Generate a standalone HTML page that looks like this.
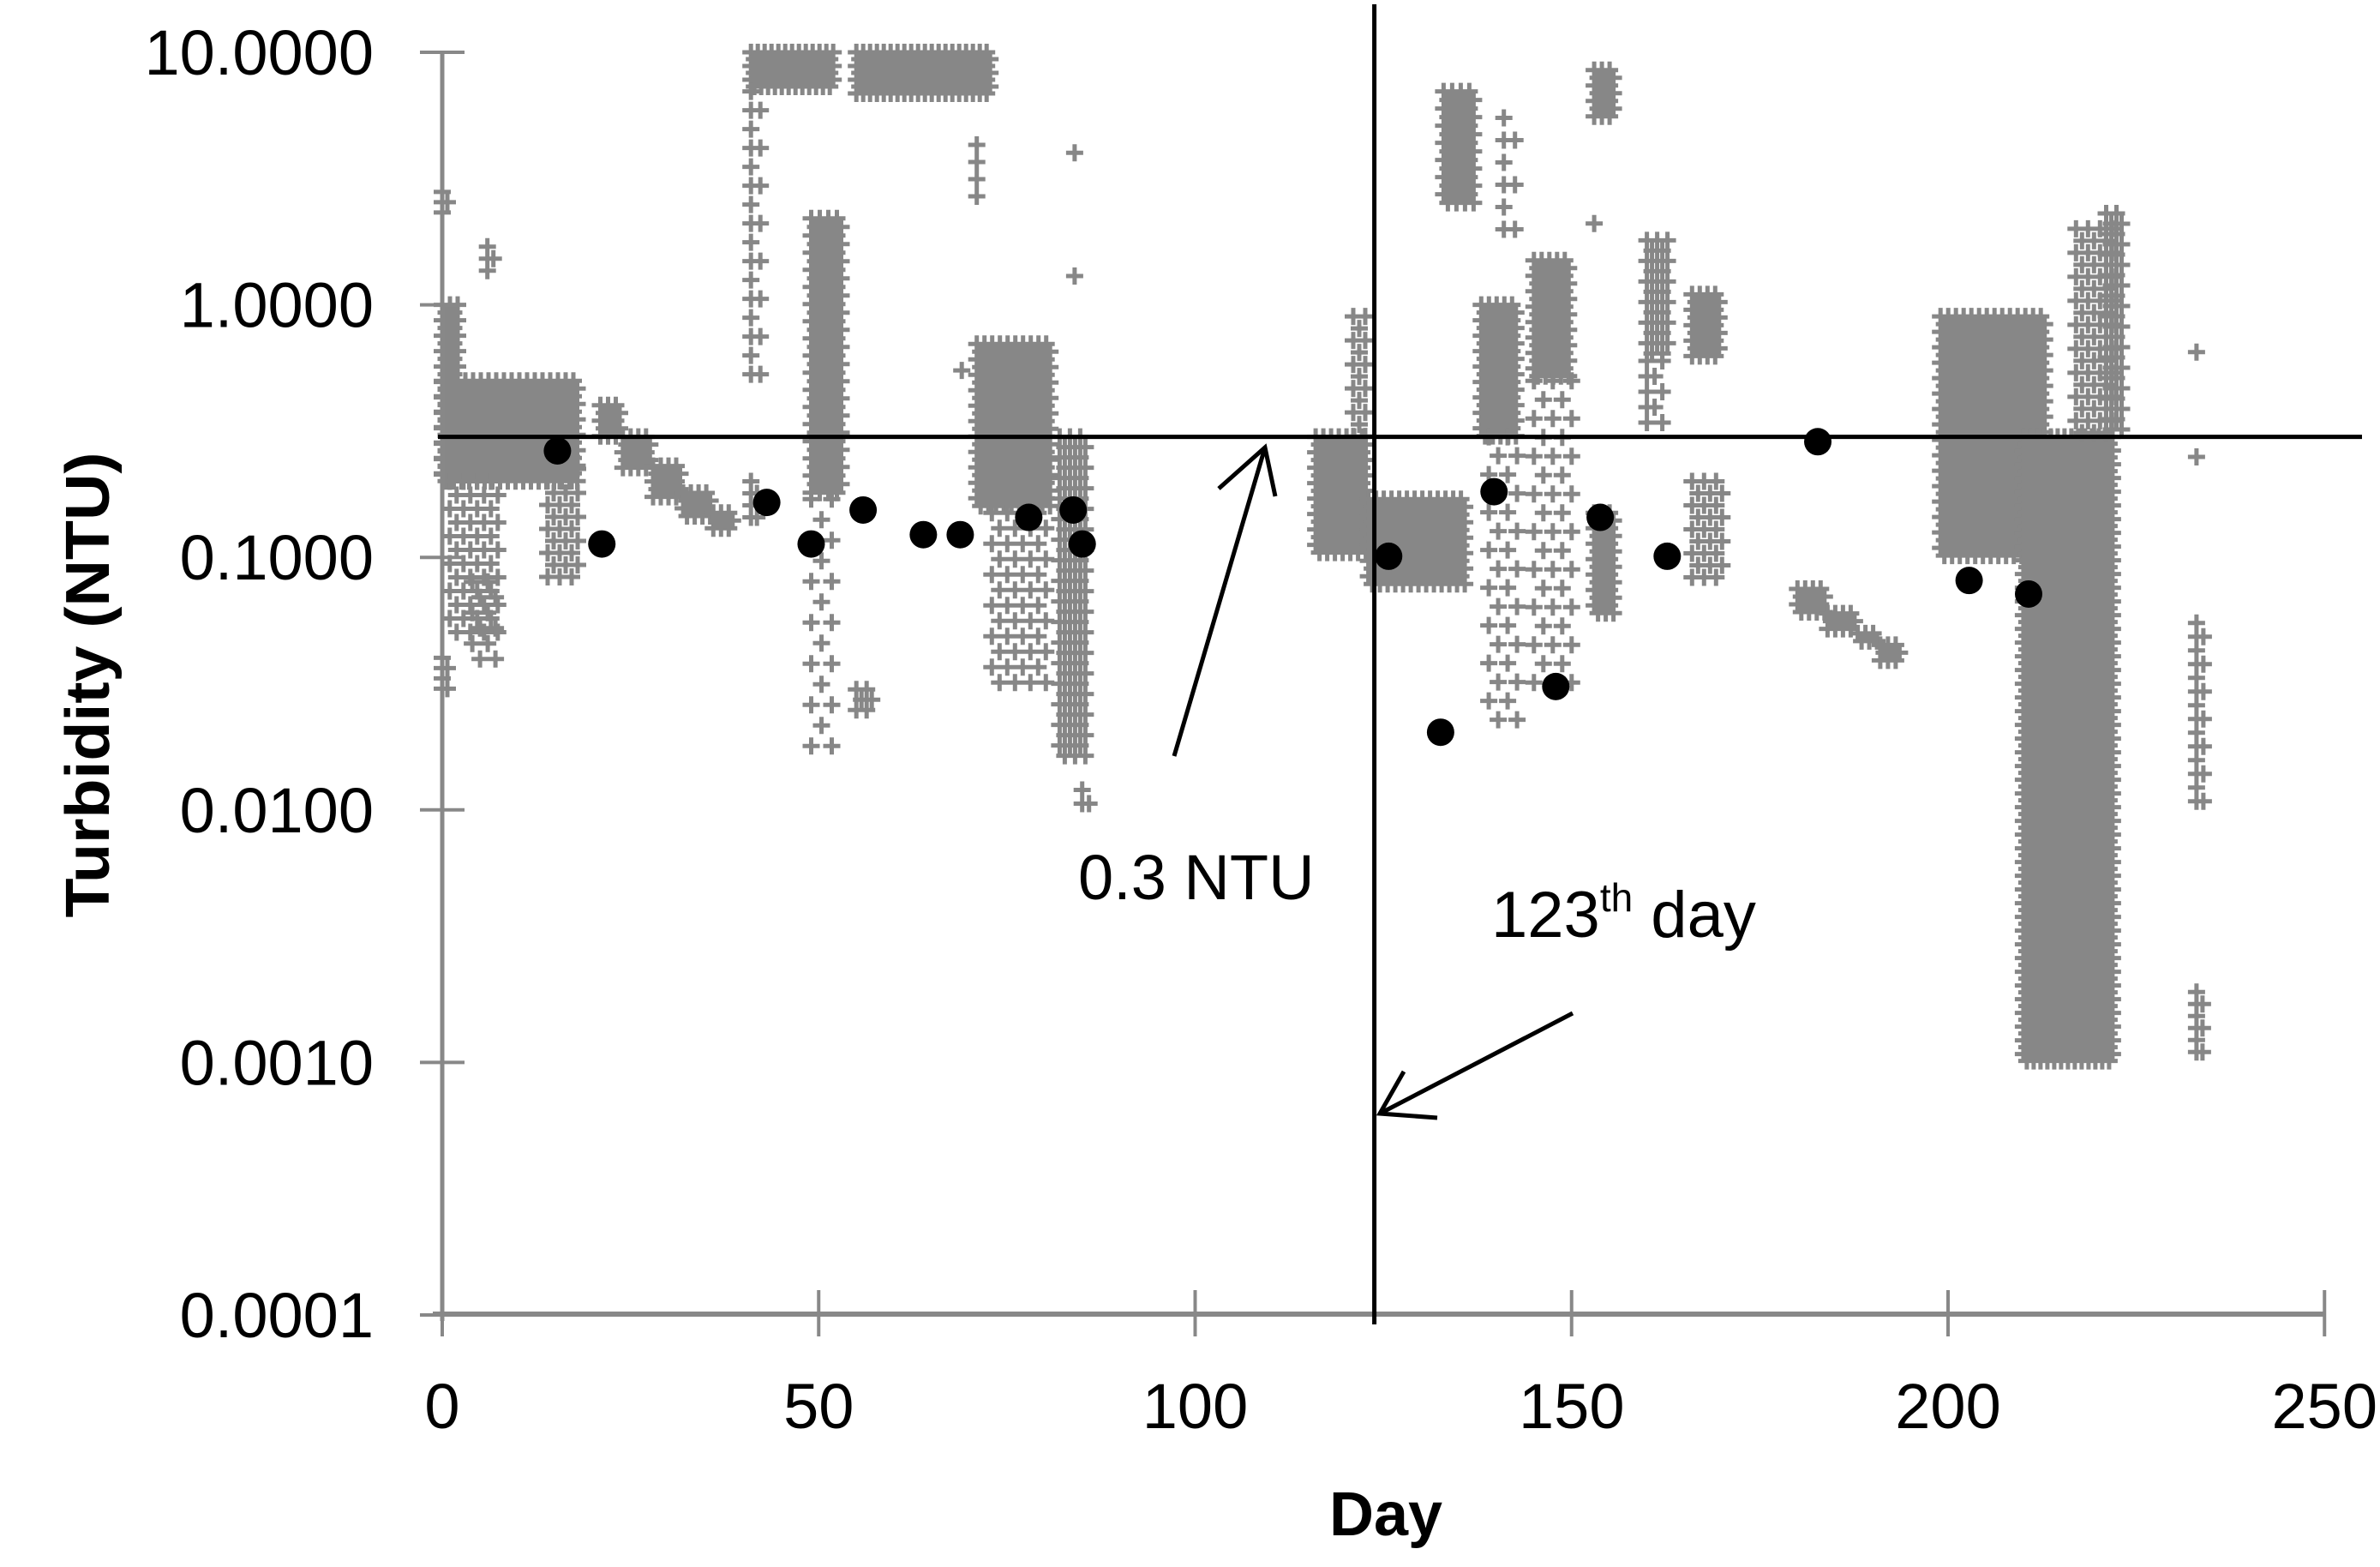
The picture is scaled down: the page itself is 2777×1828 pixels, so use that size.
<!DOCTYPE html>
<html><head><meta charset="utf-8"><style>
html,body{margin:0;padding:0;background:#fff}
svg{display:block}
text{font-family:"Liberation Sans",Arial,sans-serif;fill:#000}
</style></head><body>
<svg id="chart" width="2777" height="1828" viewBox="0 0 2777 1828" xmlns="http://www.w3.org/2000/svg">
<g id="grayLayer"></g>
<g id="axes"></g>
<g id="refLines"></g>
<g id="dotLayer"></g>
<text transform="translate(127,799) rotate(-90)" text-anchor="middle" font-weight="bold" font-size="72" textLength="543" lengthAdjust="spacingAndGlyphs">Turbidity (NTU)</text>
<text x="1617" y="1791" text-anchor="middle" font-weight="bold" font-size="72">Day</text>
<text x="1258" y="1049" font-size="74">0.3 NTU</text>
<text x="1740" y="1093" font-size="76">123<tspan font-size="46" dy="-30">th</tspan><tspan dy="30"> day</tspan></text>
<g stroke="#000" stroke-width="5" fill="none">
<line x1="1370" y1="882" x2="1476" y2="522"/><polyline points="1422,570 1476,522 1488,579"/>
</g>
<g stroke="#000" stroke-width="5" fill="none">
<line x1="1835" y1="1182" x2="1610" y2="1299"/><polyline points="1638,1250 1610,1299 1677,1304"/>
</g>
</svg>
<script>
// continuous sensor data as clusters: day range, turbidity range, marker spacing
const clD0 = [0,0,0,1,4,0,6,14,21,24,28,32,36,41,41,41,49,49,55,55,69,71,71,73,82,84,84,85,116,121,123,133,138,139,141,145,145,153,153,153,160,160,166,166,180,184,188,191,199,210,217,221,233,233,233,233];
const clD1 = [2,1,18,8,8,1,7,18,24,28,32,36,39,52,43,42,53,52,73,57,70,72,81,81,86,85,85,86,123,123,136,137,143,143,143,150,150,156,154,156,163,162,170,170,184,188,191,194,213,222,222,223,234,234,234,234];
const clLo = [0.2,2.2,0.2,0.05,0.035,0.028,1.3,0.08,0.3,0.22,0.17,0.14,0.13,7,0.5,0.13,0.17,0.016,6.6,0.023,0.5,2.5,0.15,0.03,0.015,1.25,4,0.01,0.1,0.3,0.075,2.5,0.3,0.02,1.8,0.5,0.03,5.5,1.9,0.06,0.6,0.3,0.6,0.08,0.06,0.05,0.045,0.038,0.1,0.001,0.3,0.3,0.6,0.25,0.01,0.001];
const clHi = [1.0,2.8,0.5,0.2,0.08,0.04,1.7,0.25,0.4,0.3,0.23,0.18,0.15,10,7,0.2,2.2,0.17,10,0.03,0.55,4.3,0.7,0.15,0.3,1.3,4,0.012,0.3,0.9,0.17,7,1.0,0.3,5.5,1.5,0.5,8.5,2.1,0.15,1.8,0.6,1.1,0.2,0.075,0.06,0.05,0.045,0.9,0.3,2,2.3,0.65,0.25,0.055,0.0019];
const clStep = [9,12,9,16,18,12,14,14,9,9,9,9,9,8,22,14,10,24,8,12,20,20,9,18,12,16,20,16,9,14,9,10,9,22,26,9,22,9,14,9,12,18,9,14,9,9,9,9,9,8,14,12,20,20,16,14];
// grab samples (black dots)
const dotDays = [15.3,21.2,43.1,49.0,55.9,63.9,68.8,77.9,83.8,85.0,125.7,132.6,139.7,147.9,153.8,162.7,182.7,202.8,210.7];
const dotVals = [0.264,0.113,0.165,0.113,0.154,0.123,0.123,0.144,0.154,0.113,0.101,0.0203,0.182,0.0308,0.144,0.101,0.287,0.081,0.0716];
const xTicks = [0,50,100,150,200,250];
const yTicks = [10,1,0.1,0.01,0.001,0.0001];
const yTickLabels = ["10.0000","1.0000","0.1000","0.0100","0.0010","0.0001"];
const threshold = 0.3;
const markDay = 123.8;

const NS = "http://www.w3.org/2000/svg";
const X = d => 516 + d * 8.785;
const Y = v => 61 + (1 - Math.log10(v)) * 294.6;
function mk(tag, attrs, parent){const e=document.createElementNS(NS,tag);for(const k in attrs)e.setAttribute(k,attrs[k]);parent.appendChild(e);return e;}

// axes
const ax = document.getElementById('axes');
const yAxis = mk('line',{x1:516,y1:61,x2:516,y2:1541,stroke:'#888',"stroke-width":5},ax);


const xAxis = mk('line',{x1:505,y1:1533,x2:2712,y2:1533,stroke:'#888',"stroke-width":6},ax);


yTicks.forEach((v,i)=>{
  const t = mk('line',{x1:490,y1:Y(v),x2:542,y2:Y(v),stroke:'#888',"stroke-width":4},ax);
  
  
  const l = mk('text',{x:436,y:Y(v)+26,"text-anchor":"end","font-size":74},ax);
  l.textContent = yTickLabels[i];
  
  
});
xTicks.forEach(d=>{
  const t = mk('line',{x1:X(d),y1:1505,x2:X(d),y2:1559,stroke:'#888',"stroke-width":4},ax);
  
  
  const l = mk('text',{x:X(d),y:1666,"text-anchor":"middle","font-size":74},ax);
  l.textContent = String(d);
  
  
});

// gray plus markers
const gl = document.getElementById('grayLayer');
for(let i=0;i<clD0.length;i++){
  const x0=X(clD0[i]), x1=X(clD1[i]), y0=Y(clHi[i]), y1=Y(clLo[i]), s=clStep[i];
  let d='', row=0;
  for(let y=y0;y<=y1+0.5;y+=s,row++){
    const off = (row%2)*s/2;
    for(let x=x0+off;x<=x1+0.5;x+=s){ d+=`M${(x-10).toFixed(1)} ${y.toFixed(1)}h20M${x.toFixed(1)} ${(y-10).toFixed(1)}v20`; }
    if(x1-x0<s){ d+=`M${(x0-10).toFixed(1)} ${y.toFixed(1)}h20M${x0.toFixed(1)} ${(y-10).toFixed(1)}v20`; }
  }
  const p = mk('path',{d:d,stroke:'#878787',"stroke-width":5,fill:'none'},gl);
  
  
}

// reference lines
const rl = document.getElementById('refLines');
const hl = mk('line',{x1:511,y1:Y(threshold),x2:2756,y2:Y(threshold),stroke:'#000',"stroke-width":5},rl);


const vl = mk('line',{x1:X(markDay),y1:5,x2:X(markDay),y2:1545,stroke:'#000',"stroke-width":5},rl);



// dots
const dl = document.getElementById('dotLayer');
dotDays.forEach((d,i)=>{
  const c = mk('circle',{cx:X(d),cy:Y(dotVals[i]),r:16,fill:'#000'},dl);
  
  
});
</script>
</body></html>
